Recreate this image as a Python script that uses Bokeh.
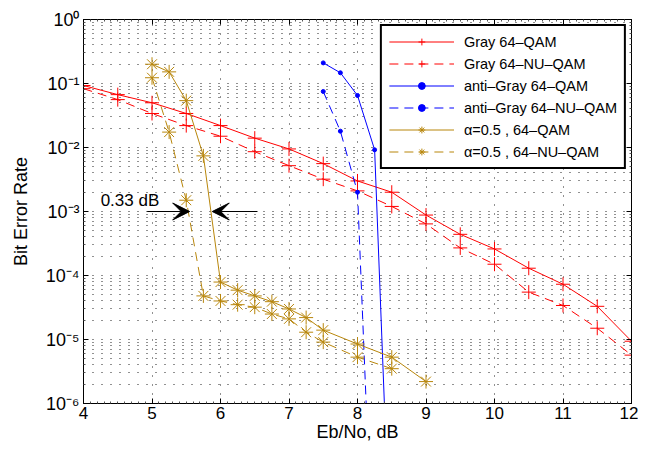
from bokeh.plotting import figure
from bokeh.models import (FixedTicker, LinearAxis, LogAxis, CustomJSTickFormatter,
                          Legend, LegendItem, Arrow, VeeHead, Label, Range1d)
from bokeh.embed import file_html
from bokeh.resources import INLINE

# ---------------- data ----------------
gray_x = [4, 4.5, 5, 5.5, 6, 6.5, 7, 7.5, 8, 8.5, 9, 9.5, 10, 10.5, 11, 11.5, 12]
gray_qam = [0.093, 0.067, 0.050, 0.034, 0.022, 0.014, 0.0095, 0.0056, 0.0030, 0.0020,
            8.8e-4, 4.4e-4, 2.6e-4, 1.3e-4, 7.3e-5, 3.3e-5, 9.4e-6]
gray_nuqam = [0.083, 0.056, 0.034, 0.022, 0.015, 0.0086, 0.0052, 0.0032, 0.0021, 0.0012,
              6.4e-4, 2.7e-4, 1.5e-4, 5.5e-5, 3.4e-5, 1.5e-5, 5.7e-6]

anti_x = [7.5, 7.75, 8, 8.25, 8.5]
anti_qam = [0.21, 0.147, 0.065, 0.0092, 1e-9]
anti_nu_x = [7.5, 7.75, 8, 8.25]
anti_nuqam = [0.075, 0.018, 0.0020, 6e-10]

alpha_x = [5, 5.25, 5.5, 5.75, 6, 6.25, 6.5, 6.75, 7, 7.25, 7.5, 8, 8.5, 9]
alpha_qam = [0.20, 0.152, 0.054, 0.0074, 7.9e-5, 5.9e-5, 4.8e-5, 3.9e-5, 3.0e-5,
             2.2e-5, 1.4e-5, 8.5e-6, 5.3e-6, 2.2e-6]
alpha_nu_x = [5, 5.25, 5.5, 5.75, 6, 6.25, 6.5, 6.75, 7, 7.25, 7.5, 8, 8.5]
alpha_nuqam = [0.123, 0.0174, 0.0015, 4.8e-5, 4.0e-5, 3.5e-5, 3.2e-5, 2.5e-5, 2.1e-5,
               1.3e-5, 9.1e-6, 5.3e-6, 3.5e-6]

x_ticks = [4, 5, 6, 7, 8, 9, 10, 11, 12]
y_ticks = [1e-6, 1e-5, 1e-4, 1e-3, 1e-2, 1e-1, 1.0]

labels = ["Gray 64–QAM", "Gray 64–NU–QAM", "anti–Gray 64–QAM", "anti–Gray 64–NU–QAM",
          "α=0.5 , 64–QAM", "α=0.5 , 64–NU–QAM"]

# annotation: 0.33 dB gap at BER 1e-3
gap_ber = 1e-3
gap_left, gap_right = 5.55, 5.88
arrow_left_tail, arrow_right_tail = 4.93, 6.54
gap_text = "0.33 dB"
gap_text_x, gap_text_y = 4.25, 1.5e-3

# ---------------- styling ----------------
FONT = "Liberation Sans"
RED = "#ff0000"
BLUE = "#0000ff"
GOLD = "#b8860b"
DASH = "9 6"

y_minor = [m * 10.0 ** e for e in range(-6, 0) for m in range(2, 10)]
x_minor = [4 + 0.1 * i for i in range(81) if i % 10 != 0]

p = figure(width=638, height=444, x_range=Range1d(4, 12), y_range=Range1d(1e-6, 1),
           y_axis_type="log", output_backend="svg", toolbar_location=None,
           min_border_left=83, min_border_right=7, min_border_top=19, min_border_bottom=38)
p.background_fill_color = "white"
p.border_fill_color = "white"
p.outline_line_color = "black"
p.outline_line_width = 1

xt = FixedTicker(ticks=x_ticks, minor_ticks=x_minor)
yt = FixedTicker(ticks=y_ticks, minor_ticks=y_minor)

sup_fmt = CustomJSTickFormatter(code="""
const s = {'0':'\u2070','1':'\u00b9','2':'\u00b2','3':'\u00b3','4':'\u2074','5':'\u2075',
           '6':'\u2076','7':'\u2077','8':'\u2078','9':'\u2079','-':'\u207b'};
const e = String(Math.round(Math.log10(tick)));
let out = '10';
for (const c of e) { out += s[c]; }
return out;
""")
blank_fmt = CustomJSTickFormatter(code="return '';")


def style_axis(ax, show_labels):
    ax.axis_line_color = "black"
    ax.major_tick_in = 5
    ax.major_tick_out = 0
    ax.minor_tick_in = 2
    ax.minor_tick_out = 0
    ax.major_tick_line_color = "black"
    ax.minor_tick_line_color = "#555555"
    if show_labels:
        ax.major_label_text_font = FONT
        ax.major_label_text_font_size = "17px"
        ax.major_label_text_color = "black"
        ax.axis_label_text_font = FONT
        ax.axis_label_text_font_size = "18px"
        ax.axis_label_text_font_style = "normal"
        ax.axis_label_text_color = "black"
    else:
        ax.major_label_standoff = 0


xa = p.xaxis[0]
xa.ticker = xt
xa.axis_label = "Eb/No, dB"
style_axis(xa, True)
xa.major_label_standoff = 3
xa.axis_label_standoff = 0

ya = p.yaxis[0]
ya.ticker = yt
ya.formatter = sup_fmt
ya.axis_label = "Bit Error Rate"
style_axis(ya, True)
ya.major_label_text_font_size = "18px"
ya.major_label_standoff = 4
ya.axis_label_standoff = 12

top_ax = LinearAxis(ticker=FixedTicker(ticks=x_ticks, minor_ticks=x_minor), formatter=blank_fmt)
style_axis(top_ax, False)
p.add_layout(top_ax, "above")
right_ax = LogAxis(ticker=FixedTicker(ticks=y_ticks, minor_ticks=y_minor), formatter=blank_fmt)
style_axis(right_ax, False)
p.add_layout(right_ax, "right")

# grid (MATLAB-like dotted)
p.xgrid.ticker = FixedTicker(ticks=x_ticks[1:-1])
p.xgrid.grid_line_color = "#222222"
p.xgrid.grid_line_dash = "1 8"
p.xgrid.grid_line_width = 1
p.ygrid.ticker = FixedTicker(ticks=y_ticks[1:-1], minor_ticks=y_minor)
p.ygrid.grid_line_color = "#222222"
p.ygrid.grid_line_dash = "1 8"
p.ygrid.grid_line_width = 1
p.ygrid.minor_grid_line_color = "#222222"
p.ygrid.minor_grid_line_dash = "1 8"
p.ygrid.minor_grid_line_width = 1

# ---------------- series ----------------
items = []


def series(x, y, color, dash, marker, size, label):
    ln = p.line(x, y, line_color=color, line_width=1, line_dash=dash)
    if marker == "circle":
        mk = p.scatter(x, y, marker="circle", size=size, line_color=color, fill_color=color,
                       line_width=1)
    else:
        mk = p.scatter(x, y, marker=marker, size=size, line_color=color, line_width=1)
    items.append(LegendItem(label=label, renderers=[ln, mk]))


series(gray_x, gray_qam, RED, "solid", "cross", 14, labels[0])
series(gray_x, gray_nuqam, RED, DASH, "cross", 14, labels[1])
series(anti_x, anti_qam, BLUE, "solid", "circle", 4, labels[2])
series(anti_nu_x, anti_nuqam, BLUE, DASH, "circle", 4, labels[3])
series(alpha_x, alpha_qam, GOLD, "solid", "asterisk", 14, labels[4])
series(alpha_nu_x, alpha_nuqam, GOLD, DASH, "asterisk", 14, labels[5])

# ---------------- annotation ----------------
p.add_layout(Arrow(end=VeeHead(size=17, fill_color="black", line_color="black"),
                   x_start=arrow_left_tail, y_start=gap_ber, x_end=gap_left, y_end=gap_ber,
                   line_color="black", line_width=1))
p.add_layout(Arrow(end=VeeHead(size=17, fill_color="black", line_color="black"),
                   x_start=arrow_right_tail, y_start=gap_ber, x_end=gap_right, y_end=gap_ber,
                   line_color="black", line_width=1))
p.add_layout(Label(x=gap_text_x, y=gap_text_y, text=gap_text, text_font=FONT,
                   text_font_size="17px", text_color="black", text_baseline="alphabetic"))

# ---------------- legend ----------------
legend = Legend(items=items, location="top_right")
legend.margin = 5
legend.padding = 7
legend.spacing = 5
legend.label_height = 17
legend.glyph_height = 17
legend.glyph_width = 65
legend.label_standoff = 10
legend.label_text_font = FONT
legend.label_text_font_size = "14.5px"
legend.label_text_color = "black"
legend.border_line_color = "black"
legend.border_line_alpha = 1.0
legend.border_line_width = 2
legend.background_fill_color = "white"
legend.background_fill_alpha = 1.0
p.add_layout(legend)

open("out.html", "w").write(file_html(p, INLINE))
